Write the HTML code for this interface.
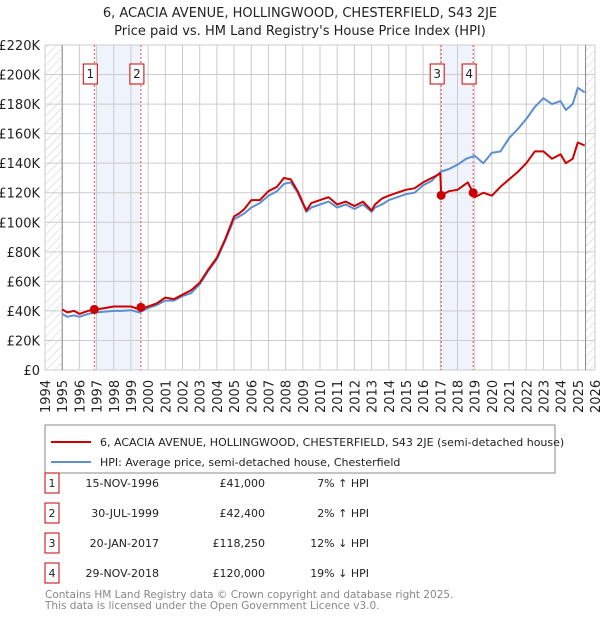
<!DOCTYPE html>
<html><head><meta charset="utf-8"><style>
body{margin:0;background:#fff;font-family:"Liberation Sans","DejaVu Sans",sans-serif}
svg text{font-family:"DejaVu Sans","Liberation Sans",sans-serif}
</style></head><body>
<svg id="c" width="600" height="620" xmlns="http://www.w3.org/2000/svg">
<defs><pattern id="h" width="6" height="6" patternUnits="userSpaceOnUse" patternTransform="rotate(45)"><line x1="0" y1="0" x2="0" y2="6" stroke="#ccc" stroke-width="1"/></pattern></defs>
<text x="300" y="17" text-anchor="middle" font-size="13" fill="#222">6, ACACIA AVENUE, HOLLINGWOOD, CHESTERFIELD, S43 2JE</text>
<text x="300" y="35" text-anchor="middle" font-size="13" fill="#222">Price paid vs. HM Land Registry's House Price Index (HPI)</text>
<g id="grid"></g><g id="marks"></g><g id="axes"></g>
<rect x="45" y="425" width="510" height="48" fill="#fff" stroke="#888"/>
<line x1="51" y1="442" x2="91" y2="442" stroke="#cc0000" stroke-width="2"/>
<text x="100" y="446" font-size="11" fill="#222">6, ACACIA AVENUE, HOLLINGWOOD, CHESTERFIELD, S43 2JE (semi-detached house)</text>
<line x1="51" y1="462" x2="91" y2="462" stroke="#5b8fd0" stroke-width="2"/>
<text x="100" y="466" font-size="11" fill="#222">HPI: Average price, semi-detached house, Chesterfield</text>
<g id="table" font-size="11" fill="#222"></g>
<text x="45" y="598" font-size="10.5" fill="#888">Contains HM Land Registry data © Crown copyright and database right 2025.</text>
<text x="45" y="609" font-size="10.5" fill="#888">This data is licensed under the Open Government Licence v3.0.</text>
</svg>
<script>
const hpiDates=[1995.0,1995.3,1995.7,1996.0,1996.5,1997.0,1997.5,1998.0,1998.5,1999.0,1999.5,2000.0,2000.5,2001.0,2001.5,2002.0,2002.5,2003.0,2003.5,2004.0,2004.5,2005.0,2005.3,2005.6,2006.0,2006.5,2007.0,2007.5,2007.9,2008.3,2008.7,2009.2,2009.5,2010.0,2010.5,2011.0,2011.5,2012.0,2012.5,2013.0,2013.2,2013.6,2014.0,2014.5,2015.0,2015.5,2016.0,2016.5,2017.0,2017.5,2018.0,2018.5,2019.0,2019.5,2020.0,2020.5,2021.0,2021.5,2022.0,2022.5,2023.0,2023.5,2024.0,2024.3,2024.7,2025.0,2025.4];
const hpiValues=[38,36,37,36,38,39,39.5,40,40,40.5,39,42,44,47,47,50,52,58,67,75,88,102,104,106,110,113,118,121,126,127,120,107,110,112,114,110,112,109,112,107,110,112,115,117,119,120,125,128,134,136,139,143,145,140,147,148,157,163,170,178,184,180,182,176,180,191,188];
const propDates=[1995.0,1995.3,1995.7,1996.0,1996.5,1997.0,1997.5,1998.0,1998.5,1999.0,1999.5,2000.0,2000.5,2001.0,2001.5,2002.0,2002.5,2003.0,2003.5,2004.0,2004.5,2005.0,2005.3,2005.6,2006.0,2006.5,2007.0,2007.5,2007.9,2008.3,2008.7,2009.2,2009.5,2010.0,2010.5,2011.0,2011.5,2012.0,2012.5,2013.0,2013.2,2013.6,2014.0,2014.5,2015.0,2015.5,2016.0,2016.5,2017.0,2017.05,2017.5,2018.0,2018.6,2018.91,2019.0,2019.5,2020.0,2020.5,2021.0,2021.5,2022.0,2022.5,2023.0,2023.5,2024.0,2024.3,2024.7,2025.0,2025.4];
const propValues=[41,39,40,38,40,41,42,43,43,43,41,43,45,49,48,51,54,59,68,76,89,104,106,109,115,115,121,124,130,129,121,108,113,115,117,112,114,111,114,108,112,116,118,120,122,123,127,130,133,118.25,121,122,127,120,117,120,118,124,129,134,140,148,148,143,146,140,143,154,152];
const saleLabels=["1","2","3","4"];
const saleDates=[1996.87,1999.58,2017.05,2018.91];
const salePrices=[41000,42400,118250,120000];
const saleDateText=["15-NOV-1996","30-JUL-1999","20-JAN-2017","29-NOV-2018"];
const salePriceText=["£41,000","£42,400","£118,250","£120,000"];
const saleHpiText=["7% ↑ HPI","2% ↑ HPI","12% ↓ HPI","19% ↓ HPI"];
const yTicks=[0,20,40,60,80,100,120,140,160,180,200,220];
const xTicks=[1994,1995,1996,1997,1998,1999,2000,2001,2002,2003,2004,2005,2006,2007,2008,2009,2010,2011,2012,2013,2014,2015,2016,2017,2018,2019,2020,2021,2022,2023,2024,2025,2026];
const L=45,R=595,T=45,B=370,X0=1994,X1=2026,YMAX=220;
const sx=d=>L+(d-X0)/(X1-X0)*(R-L);
const sy=v=>B-v/YMAX*(B-T);
const NS="http://www.w3.org/2000/svg";
function mk(p,tag,a,txt){const e=document.createElementNS(NS,tag);for(const k in a)e.setAttribute(k,a[k]);if(txt!=null)e.textContent=txt;p.appendChild(e);return e;}
const grid=document.getElementById('grid'),marks=document.getElementById('marks'),axes=document.getElementById('axes'),tbl=document.getElementById('table');
let e;
e=mk(grid,'rect',{x:L,y:T,width:R-L,height:B-T,fill:'#fff'});


for(let i=0;i<2;i++){
 e=mk(grid,'rect',{x:sx(saleDates[i*2]),y:T,width:sx(saleDates[i*2+1])-sx(saleDates[i*2]),height:B-T,fill:'#eef3fc'});
 
 
}
yTicks.forEach(v=>{
 e=mk(grid,'line',{x1:L,x2:R,y1:sy(v),y2:sy(v),stroke:'#ccc','stroke-width':1});
 
 
 e=mk(axes,'text',{x:40,y:sy(v)+5,'text-anchor':'end','font-size':13,fill:'#222'},v===0?'£0':'£'+v+'K');
 
 
});
xTicks.forEach(d=>{
 e=mk(grid,'line',{x1:sx(d),x2:sx(d),y1:T,y2:B,stroke:'#ccc','stroke-width':1});
 
 
 e=mk(axes,'text',{x:0,y:0,transform:`translate(${sx(d)+5},${413}) rotate(-90)`,'font-size':13,fill:'#222'},String(d));
 
 
});
e=mk(grid,'rect',{x:L,y:T,width:sx(1995)-L,height:B-T,fill:'url(#h)'});


e=mk(grid,'rect',{x:sx(2025.45),y:T,width:R-sx(2025.45),height:B-T,fill:'url(#h)'});


e=mk(grid,'line',{x1:sx(1995),x2:sx(1995),y1:T,y2:B,stroke:'#888'});


e=mk(grid,'line',{x1:sx(2025.45),x2:sx(2025.45),y1:T,y2:B,stroke:'#888'});


saleDates.forEach((d,i)=>{
 e=mk(marks,'line',{x1:sx(d),x2:sx(d),y1:T,y2:B,stroke:'#e05050','stroke-dasharray':'2,2','stroke-width':1});
 
 
 e=mk(marks,'rect',{x:sx(d)-11,y:64,width:14,height:20,fill:'#fff',stroke:'#cc0000'});
 
 
 e=mk(marks,'text',{x:sx(d)-4,y:78,'text-anchor':'middle','font-size':12,fill:'#222'},saleLabels[i]);
 
 
});
const path=(ds,vs)=>ds.map((d,i)=>(i?'L':'M')+sx(d).toFixed(1)+','+sy(vs[i]).toFixed(1)).join('');
e=mk(marks,'path',{d:path(hpiDates,hpiValues),fill:'none',stroke:'#5b8fd0','stroke-width':2,'stroke-linejoin':'round'});


e=mk(marks,'path',{d:path(propDates,propValues),fill:'none',stroke:'#cc0000','stroke-width':2,'stroke-linejoin':'round'});


saleDates.forEach((d,i)=>{
 e=mk(marks,'circle',{cx:sx(d),cy:sy(salePrices[i]/1000),r:4.5,fill:'#cc0000'});
 
 
});
saleLabels.forEach((s,i)=>{
 const y=484+i*30;
 e=mk(tbl,'rect',{x:45,y:y-11,width:14,height:20,fill:'#fff',stroke:'#cc0000'});
 
 
 e=mk(tbl,'text',{x:52,y:y+3,'text-anchor':'middle'},s);
 
 
 e=mk(tbl,'text',{x:159,y:y+3,'text-anchor':'end'},saleDateText[i]);
 
 
 e=mk(tbl,'text',{x:265,y:y+3,'text-anchor':'end'},salePriceText[i]);
 
 
 e=mk(tbl,'text',{x:369,y:y+3,'text-anchor':'end'},saleHpiText[i]);
 
 
});
</script>
</body></html>
